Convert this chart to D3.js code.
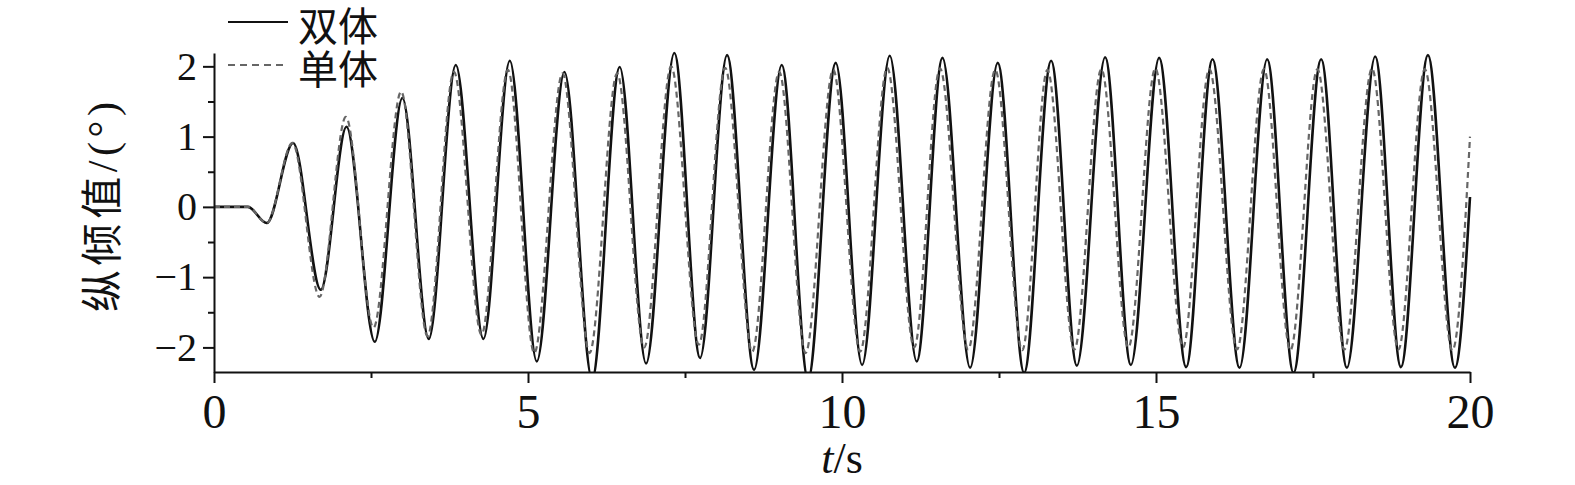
<!DOCTYPE html>
<html>
<head>
<meta charset="utf-8">
<script src="https://cdn.jsdelivr.net/npm/d3@7"></script>
<style>
  body { margin: 0; background: #fff; }
  text { font-family: "Liberation Serif", "Noto Sans CJK SC", serif; fill: #111; }
</style>
</head>
<body>
<div id="plot"></div>
<script>
// pitch values (extrema), t in s, value in degrees

  const twinT = [0, 0.54, 0.84, 1.26, 1.70, 2.11, 2.56, 3.00, 3.42, 3.85, 4.29, 4.71, 5.14, 5.58, 6.02,
    6.46, 6.88, 7.33, 7.74, 8.17, 8.60, 9.04, 9.46, 9.90, 10.32, 10.76, 11.19, 11.60, 12.04, 12.48, 12.90,
    13.33, 13.74, 14.19, 14.60, 15.05, 15.48, 15.90, 16.33, 16.77, 17.19, 17.63, 18.04, 18.49, 18.90,
    19.33, 19.76, 20.0];
  const twinV = [0, 0, -0.23, 0.91, -1.18, 1.14, -1.92, 1.55, -1.88, 2.02, -1.88, 2.08, -2.20, 1.92, -2.45,
    1.99, -2.23, 2.19, -2.15, 2.16, -2.32, 2.02, -2.45, 2.05, -2.25, 2.15, -2.20, 2.12, -2.29, 2.05, -2.36,
    2.08, -2.26, 2.13, -2.25, 2.12, -2.28, 2.10, -2.29, 2.10, -2.36, 2.10, -2.29, 2.14, -2.28,
    2.16, -2.29, 0.14];

  const monoT = [0, 0.54, 0.84, 1.25, 1.68, 2.10, 2.54, 2.98, 3.40, 3.82, 4.26, 4.68, 5.10, 5.55, 5.98,
    6.42, 6.85, 7.28, 7.72, 8.14, 8.57, 9.00, 9.42, 9.86, 10.29, 10.72, 11.15, 11.56, 12.01, 12.44, 12.87,
    13.27, 13.70, 14.13, 14.56, 14.99, 15.43, 15.85, 16.29, 16.72, 17.14, 17.57, 18.00, 18.44, 18.86,
    19.28, 19.72, 20.0];
  const monoV = [0, 0, -0.23, 0.91, -1.28, 1.28, -1.72, 1.64, -1.84, 1.92, -1.82, 1.95, -2.08, 1.90, -2.08,
    1.90, -2.00, 2.00, -1.96, 1.98, -2.06, 1.92, -2.08, 1.95, -2.06, 1.98, -2.00, 1.97, -2.03, 1.95, -2.04,
    1.95, -2.03, 1.96, -2.00, 1.97, -2.00, 1.96, -2.03, 1.96, -2.04, 1.96, -2.03, 1.97, -2.03,
    1.96, -2.04, 1.0];

  const xMajor = [0, 5, 10, 15, 20];
  const xMinor = [2.5, 7.5, 12.5, 17.5];
  const yMajor = [-2, -1, 0, 1, 2];
  const yMinor = [-1.5, -0.5, 0.5, 1.5];
  const seriesNames = ["双体", "单体"];

  const w = 1575;
  const h = 485;
  const margin = {top: 53, right: 1470, bottom: 372, left: 214};

  const svg = d3.select("div#plot")
      .append("svg")
      .attr("width", w)
      .attr("height", h);

  const xScale = d3.scaleLinear()
      .domain([0, 20])
      .range([margin.left, margin.right]);

  const yScale = d3.scaleLinear()
      .domain([-2.35, 2.19])
      .range([margin.bottom, margin.top]);

  svg.append("clipPath")
      .attr("id", "clip")
    .append("rect")
      .attr("x", margin.left)
      .attr("y", 0)
      .attr("width", margin.right - margin.left + 2)
      .attr("height", margin.bottom);

  const line = d3.line()
      .x(d => xScale(d[0]))
      .y(d => yScale(d[1]))
      .curve(d3.curveMonotoneX);

  const twin = twinT.map((t, i) => [t, twinV[i]]);
  const mono = monoT.map((t, i) => [t, monoV[i]]);

  const lines = svg.append("g").attr("clip-path", "url(#clip)");

  lines.append("path")
      .attr("d", line(twin))
      .attr("fill", "none")
      .attr("stroke", "#111")
      .attr("stroke-width", 2.6);

  lines.append("path")
      .attr("d", line(mono))
      .attr("fill", "none")
      .attr("stroke", "#666")
      .attr("stroke-width", 2.2)
      .attr("stroke-dasharray", "6,4");

  // axes
  const xAxis = svg.append("g")
      .attr("transform", `translate(0, ${margin.bottom})`)
      .call(d3.axisBottom(xScale).tickValues(xMajor).tickSize(11).tickSizeOuter(0));
  xAxis.selectAll("text")
      .attr("y", 56)
      .attr("dy", null)
      .style("font-size", "48px");

  svg.append("g")
      .attr("transform", `translate(0, ${margin.bottom})`)
      .call(d3.axisBottom(xScale).tickValues(xMinor).tickSize(6).tickFormat(""))
      .select(".domain").remove();

  const yAxis = svg.append("g")
      .attr("transform", `translate(${margin.left}, 0)`)
      .call(d3.axisLeft(yScale).tickValues(yMajor).tickSize(11).tickSizeOuter(0)
        .tickPadding(6).tickFormat(d3.format("d")));
  yAxis.selectAll("text")
      .style("font-size", "40px");

  svg.append("g")
      .attr("transform", `translate(${margin.left}, 0)`)
      .call(d3.axisLeft(yScale).tickValues(yMinor).tickSize(6).tickFormat(""))
      .select(".domain").remove();

  svg.selectAll(".domain, .tick line")
      .attr("stroke", "#111")
      .attr("stroke-width", 2);

  // titles
  const xTitle = svg.append("text")
      .attr("x", (margin.left + margin.right) / 2)
      .attr("y", 473)
      .attr("text-anchor", "middle")
      .style("font-size", "44px");
  xTitle.append("tspan").style("font-style", "italic").text("t");
  xTitle.append("tspan").text("/s");

  svg.append("text")
      .attr("transform", "translate(103, 207) rotate(-90)")
      .attr("text-anchor", "middle")
      .attr("dominant-baseline", "central")
      .attr("textLength", 210)
      .style("font-size", "42px")
      .text("纵倾值/(°)");

  // legend
  const legend = svg.append("g");
  const legendY = [27, 70];

  legend.selectAll("line")
      .data(seriesNames)
    .enter().append("line")
      .attr("x1", 228)
      .attr("x2", 288)
      .attr("y1", (d, i) => legendY[i] - 5)
      .attr("y2", (d, i) => legendY[i] - 5)
      .attr("stroke", (d, i) => i === 0 ? "#111" : "#666")
      .attr("stroke-width", 2)
      .attr("stroke-dasharray", (d, i) => i === 0 ? null : "7,5");

  legend.selectAll("text")
      .data(seriesNames)
    .enter().append("text")
      .attr("x", 298)
      .attr("y", (d, i) => legendY[i])
      .attr("dominant-baseline", "central")
      .style("font-size", "40px")
      .text(d => d);
</script>
</body>
</html>
